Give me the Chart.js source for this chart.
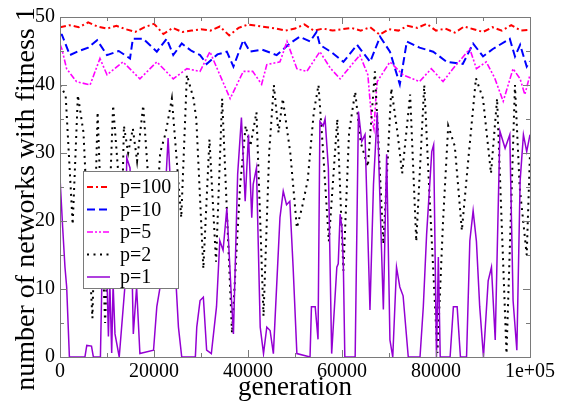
<!DOCTYPE html>
<html><head><meta charset="utf-8">
<script src="https://cdn.jsdelivr.net/npm/chart.js@4/dist/chart.umd.min.js"></script>
<style>html,body{margin:0;padding:0;background:#fff}#wrap{width:562px;height:401px;position:relative}</style>
</head><body><div id="wrap"><canvas id="c" width="562" height="401"></canvas></div>
<script>
// ---- data ----
const seriesNames = ['p=100', 'p=10', 'p=5', 'p=2', 'p=1'];

const gen100 = [0,2000,4000,6000,8000,10000,12000,14000,16000,18000,20000,22000,24000,26000,28000,30000,32000,34000,36000,38000,40000,42000,44000,46000,48000,50000,52000,54000,56000,58000,60000,62000,64000,66000,68000,70000,72000,74000,76000,78000,80000,82000,84000,86000,88000,90000,92000,94000,96000,98000,100000];
const val100 = [48.5,48.8,48.5,49.2,48.6,48.3,48.7,48.2,47.8,48.5,49.0,47.5,48.4,47.8,48.0,48.2,48.0,48.6,47.3,48.4,48.9,48.7,48.5,48.3,48.0,48.3,48.9,48.0,48.3,48.0,48.2,48.4,48.0,48.5,47.4,48.2,48.0,48.7,48.4,49.0,48.0,48.3,47.7,48.6,48.2,47.8,48.5,48.0,48.8,48.0,48.1];

const gen10 = [0,400,2100,4000,6000,7900,10000,12500,14900,15500,17700,20600,22700,24100,25900,28000,29800,31200,33500,35500,36900,39000,40400,43000,46100,48900,51000,53200,54600,55300,57800,60300,63200,66000,68100,70200,72300,73800,76500,79400,82300,85700,87900,90000,92100,95700,96800,97900,99300,100000];
const val10 = [47.4,47.4,44.4,45.0,45.5,46.6,44.4,45.0,43.9,46.8,46.8,44.9,46.8,44.4,46.1,45.0,44.4,43.1,44.5,44.9,42.7,46.6,44.9,45.2,44.4,46.1,47.1,46.4,47.8,45.9,44.8,43.4,45.9,43.4,47.1,44.9,40.1,46.4,45.5,44.9,43.4,43.1,46.1,44.2,45.3,46.8,44.2,45.9,42.7,43.5];

const gen5 = [0,400,1400,3500,6400,8500,10000,13400,17000,20600,24100,27000,29800,31900,34000,36200,39000,41000,42900,44000,46800,48300,50400,52500,55300,57500,59600,61500,63800,65500,66300,66800,67200,67500,70200,73000,76500,79000,81500,83600,87200,88600,90700,92500,94300,96400,97900,98900,100000];
const val5 = [46.0,45.3,42.4,40.5,40.0,43.9,41.5,43.4,40.9,43.4,40.9,42.4,42.0,44.9,41.5,38.0,42.0,42.0,40.1,43.0,43.4,46.4,42.4,42.0,44.9,42.5,40.9,42.5,44.4,41.5,35.0,33.5,38.0,40.5,43.4,41.5,40.5,42.4,40.5,42.4,45.3,42.4,43.4,41.0,37.6,42.4,40.9,38.6,41.5];

const gen2 = [0,1200,2700,3800,5000,6000,6900,8000,9600,11300,12400,12900,13600,14500,15500,16400,17700,19000,20000,21300,22500,23800,25800,27000,28400,29000,30500,31800,33200,34500,36600,38300,39500,40500,41800,42600,43300,44500,45500,46500,47400,49000,50400,51500,52700,54000,55000,56000,57200,58500,59000,60300,61500,62800,64000,65500,67000,68000,68800,70500,71800,72800,74500,75800,77500,78600,80300,81500,82600,84000,85500,87000,88500,90000,91700,93000,95000,96800,97800,99300,100000];
const val2 = [40,38.5,19.5,38.5,33,18,5.7,36,5,37,27,12,34,30,33.6,28.8,37,24,14,30,33,38,20.5,41.5,38,35,13,32,14,38,3.5,25,34,31,36,20,6,30,40,33,38,30,19,22,26,36,40,30,17,30,35,12.7,33,39,31.5,28,42,28,16.6,39.5,33,27,38.6,17,40,24,0.6,20,34,31,18.6,30,41,38,27,38,0.5,40,25,15,30];

const gen1 = [0,570,1060,1420,2000,5300,5700,6700,7100,8600,9300,9900,10300,10600,11000,11300,11700,12600,13800,14200,14900,15600,16300,17000,19900,20600,21300,22300,23000,23800,24500,25200,25900,28800,29100,29800,30500,31200,32200,33300,34000,34700,35500,36500,36900,37800,38600,39400,40100,40800,41100,41800,42600,43300,44000,44700,45400,46800,47500,48200,48900,49600,50400,53200,53500,54300,54900,55300,56000,56400,57100,57800,58900,59200,59600,60000,60300,60600,62800,63500,64200,64900,65950,66700,67500,68800,69500,70200,70800,71600,72300,73000,74100,76600,77300,78000,79100,79500,80100,80500,80900,83000,83700,84500,85200,86500,87200,87900,88600,89300,90100,91100,91800,92600,93600,94700,95700,96400,97200,97900,98600,99300,100000];
const val1 = [26.4,19.0,13.2,10.3,0,0,1.7,1.6,0,0,25.0,14.0,3.0,11.0,0.6,10.7,3.4,0,10.3,29.3,27.8,3.4,10.3,0.5,1.0,7.4,10.3,22.9,32.2,21.5,13.2,4.4,0,0,4.4,8.3,8.8,1.0,0.5,7.4,17.1,15.7,21.9,8.3,3.4,26.9,35.2,22.9,32.7,20.5,25.4,27.8,4.4,0.5,4.4,3.9,0.5,20.5,24.4,22.4,22.9,13.2,0.5,0,7.4,7.4,2.6,34.6,34.0,35.0,27.8,0.5,13.2,13.7,21.0,19.0,13.0,0,0,36.1,31.7,32.7,6.9,25.4,36.0,7.0,29.8,2.5,0,13.2,10.3,9.0,0,0,7.4,18.0,30.2,31.2,0,14.7,0,0,7.4,7.4,0,0,17.1,21.5,17.0,7.4,0,11.2,13.2,2.5,33.2,30.7,32.7,8.3,1.0,25.9,32.7,30.2,32.7];

const yTickValues = [0, 10, 20, 30, 40, 50];
const xTickValues = [0, 20000, 40000, 60000, 80000, 100000];
const xTickLabels = ['0', '20000', '40000', '60000', '80000', '1e+05'];
const xAxisTitle = 'generation';
const yAxisTitle = 'number of networks with fitness 1';

// ---- styles ----
const SERIF = "'Liberation Serif', 'DejaVu Serif', serif";
const styles = [
  {color: '#ff0000', dash: [6, 3, 2, 3], width: 2},
  {color: '#0000ff', dash: [8, 4], width: 2},
  {color: '#ff00ff', dash: [6, 2, 2, 2, 2, 2], width: 1.6},
  {color: '#000000', dash: [2, 4.5], width: 2},
  {color: '#9400d3', dash: [], width: 1.5}
];
const gens = [gen100, gen10, gen5, gen2, gen1];
const vals = [val100, val10, val5, val2, val1];

const datasets = seriesNames.map((name, i) => ({
  label: name,
  data: gens[i].map((g, k) => ({x: g, y: vals[i][k]})),
  borderColor: styles[i].color,
  backgroundColor: styles[i].color,
  borderDash: styles[i].dash,
  borderWidth: styles[i].width,
  pointRadius: 0,
  tension: 0,
  fill: false,
  order: 4 - i
}));

const framePlugin = {
  id: 'frameTicks',
  afterDatasetsDraw(chart) {
    const {ctx, chartArea: a, scales: {x, y}} = chart;
    ctx.save();
    ctx.strokeStyle = '#7a7a7a';
    ctx.lineWidth = 1;
    ctx.setLineDash([]);
    ctx.beginPath();
    for (let v = 0; v <= 100000; v += 10000) {
      const px = Math.round(x.getPixelForValue(v)) + 0.5;
      const len = v % 20000 === 0 ? 7 : 4;
      ctx.moveTo(px, a.bottom); ctx.lineTo(px, a.bottom - len);
      ctx.moveTo(px, a.top); ctx.lineTo(px, a.top + len);
    }
    for (let v = 0; v <= 50; v += 5) {
      const py = Math.round(y.getPixelForValue(v)) + 0.5;
      const len = v % 10 === 0 ? 7 : 4;
      ctx.moveTo(a.left, py); ctx.lineTo(a.left + len, py);
      ctx.moveTo(a.right, py); ctx.lineTo(a.right - len, py);
    }
    ctx.stroke();
    ctx.strokeRect(Math.round(a.left) + 0.5, Math.round(a.top) + 0.5, Math.round(a.right - a.left), Math.round(a.bottom - a.top));
    ctx.restore();
  },
  afterDraw(chart) {
    const {ctx} = chart;
    ctx.save();
    // y axis title
    ctx.translate(34, 199);
    ctx.rotate(-Math.PI / 2);
    ctx.font = '28px ' + SERIF;
    ctx.fillStyle = '#000';
    ctx.textAlign = 'center';
    ctx.textBaseline = 'alphabetic';
    ctx.fillText(yAxisTitle, 0, 0);
    ctx.restore();
    // legend
    ctx.save();
    const bx = 83.5, by = 171.5, bw = 95, bh = 117;
    ctx.fillStyle = '#fff';
    ctx.fillRect(bx, by, bw, bh);
    ctx.strokeStyle = '#7a7a7a';
    ctx.lineWidth = 1;
    ctx.strokeRect(bx, by, bw, bh);
    ctx.font = '20px ' + SERIF;
    ctx.textBaseline = 'middle';
    ctx.textAlign = 'left';
    chart.data.datasets.forEach((ds, i) => {
      const ly = 187 + i * 22.5;
      ctx.beginPath();
      ctx.strokeStyle = ds.borderColor;
      ctx.lineWidth = ds.borderWidth;
      ctx.setLineDash(ds.borderDash);
      ctx.moveTo(87, ly); ctx.lineTo(110, ly);
      ctx.stroke();
      ctx.setLineDash([]);
      ctx.fillStyle = '#000';
      ctx.fillText(ds.label, 120, ly + 1);
    });
    ctx.restore();
  }
};

new Chart(document.getElementById('c'), {
  type: 'line',
  data: {datasets},
  options: {
    responsive: false,
    animation: false,
    devicePixelRatio: 1,
    layout: {padding: {top: 15, right: 32, left: 0, bottom: 0}},
    plugins: {legend: {display: false}, tooltip: {enabled: false}},
    scales: {
      x: {
        type: 'linear', min: 0, max: 100000,
        afterBuildTicks(s) { s.ticks = xTickValues.map(v => ({value: v})); },
        afterFit(s) { s.height = 44; },
        grid: {display: false, drawTicks: false},
        border: {display: false},
        ticks: {
          autoSkip: false, maxRotation: 0, padding: 3, color: '#000',
          font: {family: SERIF, size: 20},
          callback(v) { const k = xTickValues.indexOf(v); return k >= 0 ? xTickLabels[k] : ''; }
        },
        title: {display: true, text: xAxisTitle, color: '#000', font: {family: SERIF, size: 27}, padding: {top: 0, bottom: -3}}
      },
      y: {
        type: 'linear', min: 0, max: 50,
        afterBuildTicks(s) { s.ticks = yTickValues.map(v => ({value: v})); },
        afterFit(s) { s.width = 60; },
        grid: {display: false, drawTicks: false},
        border: {display: false},
        ticks: {padding: 5, color: '#000', font: {family: SERIF, size: 20}}
      }
    }
  },
  plugins: [framePlugin]
});
</script>
</body></html>
